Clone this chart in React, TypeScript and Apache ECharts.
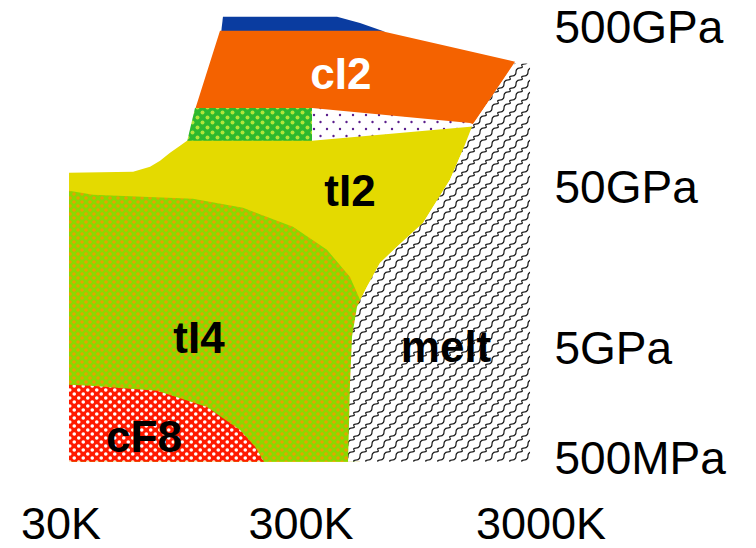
import { useEffect, useRef } from 'react';
import * as echarts from 'echarts';

// Axis ticks (temperature in K, pressure in GPa)
const temperatureTicks = [30, 300, 3000];
const temperatureTickLabels = ['30K', '300K', '3000K'];
const pressureTicks = [1.03, 5, 50, 500];
const pressureTickLabels = ['500MPa', '5GPa', '50GPa', '500GPa'];

// Phase fields: vertices as [T (K), P (GPa)]
const blueField = [[141.9, 577], [423.8, 577], [528.4, 529], [671.6, 465], [139.2, 452]];
const cI2Field = [[137.9, 472], [640.1, 472], [1253, 375], [2338, 303], [1562, 122.5], [333.4, 152], [108.5, 152]];
const greenField = [[108.5, 156], [333.4, 156], [333.4, 96.1], [100.5, 96.1]];
const wedgeField = [[333.4, 156], [1518, 126], [1624, 121], [1518, 117], [333.4, 96.1]];
const tI2Field = [
  [32.4, 61.6], [59.9, 62.5], [70.5, 67.1], [77.6, 73.1], [85.4, 82.0], [94.0, 90.7], [100.5, 97.4],
  [333.4, 97.4], [1518, 119], [1624, 121], [1419, 85.6], [1253, 55.7], [967.1, 30.0], [753.6, 21.3],
  [640.1, 16.9], [565.1, 12.0], [513.4, 9.0], [489.4, 5.85], [480.1, 3.03], [471.0, 0.975], [32.4, 0.975],
];
const tI4Field = [
  [32.4, 47.6], [40.8, 44.9], [106.4, 42.4], [172.0, 37.3], [277.8, 28.4], [385.0, 20.4], [480.1, 13.8],
  [528.4, 9.95], [538.6, 6.47], [528.4, 0.975], [32.4, 0.975],
];
const cF8Field = [
  [32.4, 2.94], [39.6, 2.9], [75.4, 2.7], [121.7, 2.14], [167.1, 1.54], [193.0, 1.21], [210.4, 0.975], [32.4, 0.975],
];
const meltField = [
  [2338, 298], [2700, 294], [2700, 0.975], [471.0, 0.975], [480.1, 3.03], [489.4, 5.85], [513.4, 9.0],
  [565.1, 12.0], [640.1, 16.9], [753.6, 21.3], [967.1, 30.0], [1253, 55.7], [1419, 85.6], [1562, 124], [1930, 197],
];

// Field labels [T (K), P (GPa)]
const labelNames = ['cI2', 'tI2', 'tI4', 'cF8', 'melt'];
const labelT = [440, 480, 112.7, 66.5, 1206];
const labelP = [255, 47.6, 5.77, 1.4, 5.07];
const labelColors = ['#ffffff', '#000000', '#000000', '#000000', '#000000'];

type Dot = [number, number];
function dotTile(w: number, h: number, bg: string, dot: string, r: number, dots: Dot[]) {
  const c = document.createElement('canvas');
  c.width = w;
  c.height = h;
  const ctx = c.getContext('2d')!;
  ctx.fillStyle = bg;
  ctx.fillRect(0, 0, w, h);
  ctx.fillStyle = dot;
  for (const [x, y] of dots) {
    for (const dx of [-w, 0, w]) {
      for (const dy of [-h, 0, h]) {
        ctx.beginPath();
        ctx.arc(x + dx, y + dy, r, 0, Math.PI * 2);
        ctx.fill();
      }
    }
  }
  return { image: c.toDataURL(), repeat: 'repeat', imageWidth: w, imageHeight: h };
}

function meltTile() {
  const w = 12;
  const h = 12;
  const c = document.createElement('canvas');
  c.width = w;
  c.height = h;
  const ctx = c.getContext('2d')!;
  ctx.fillStyle = '#ffffff';
  ctx.fillRect(0, 0, w, h);
  ctx.strokeStyle = '#1a1a1a';
  ctx.lineWidth = 1.2;
  for (const dx of [-w, 0, w]) {
    for (const dy of [-h, 0, h]) {
      ctx.beginPath();
      ctx.moveTo(dx + 0, dy + 12);
      ctx.bezierCurveTo(dx + 0, dy + 5, dx + 8, dy + 10, dx + 6, dy + 6);
      ctx.bezierCurveTo(dx + 4, dy + 2, dx + 12, dy + 7, dx + 12, dy + 0);
      ctx.stroke();
    }
  }
  return { image: c.toDataURL(), repeat: 'repeat', imageWidth: w, imageHeight: h };
}

function nearestLabel(v: number, ticks: number[], labels: string[]) {
  let best = 0;
  let bd = Infinity;
  ticks.forEach((t, i) => {
    const d = Math.abs(Math.log10(t) - v);
    if (d < bd) {
      bd = d;
      best = i;
    }
  });
  return labels[best];
}

export default function App() {
  const ref = useRef<HTMLDivElement>(null);
  useEffect(() => {
    if (!ref.current) return;
    const chart = echarts.init(ref.current, null, { renderer: 'svg' });

    const fills: any[] = [
      '#0a3ca0',
      '#f46200',
      dotTile(10, 10, '#2eb82e', '#b4e43c', 2, [[2.5, 2.5], [7.5, 7.5]]),
      dotTile(13, 14, '#ffffff', '#5a1e8c', 1.2, [[2, 3], [8.5, 10]]),
      '#e4da00',
      dotTile(8, 8, '#8ad800', '#e6a200', 1.8, [[2, 2], [6, 6]]),
      dotTile(9, 8, '#ff1a00', '#ffffff', 1.8, [[2.25, 2], [6.75, 6]]),
      meltTile(),
    ];
    const fields = [blueField, cI2Field, greenField, wedgeField, tI2Field, tI4Field, cF8Field, meltField];
    const names = ['blue', 'cI2', 'green', 'wedge', 'tI2', 'tI4', 'cF8', 'melt'];

    const fieldSeries = fields.map((pts, k) => ({
      type: 'custom',
      name: names[k],
      coordinateSystem: 'cartesian2d',
      silent: true,
      z: 2 + k,
      data: pts.map(([t, p]) => [Math.log10(t), Math.log10(p)]),
      encode: { x: 0, y: 1 },
      renderItem: (params: any, api: any) => {
        if (params.dataIndexInside !== 0) return null;
        const n = params.dataInsideLength;
        const points: number[][] = [];
        for (let i = 0; i < n; i++) {
          points.push(api.coord([api.value(0, i), api.value(1, i)]));
        }
        return { type: 'polygon', shape: { points }, style: { fill: fills[k], stroke: null } };
      },
    }));

    const labelSeries = {
      type: 'custom',
      name: 'labels',
      coordinateSystem: 'cartesian2d',
      silent: true,
      z: 20,
      data: labelNames.map((n, i) => [Math.log10(labelT[i]), Math.log10(labelP[i]), i]),
      encode: { x: 0, y: 1 },
      renderItem: (params: any, api: any) => {
        const pt = api.coord([api.value(0), api.value(1)]);
        const i = api.value(2);
        return {
          type: 'text',
          x: pt[0],
          y: pt[1],
          style: {
            text: labelNames[i],
            fill: labelColors[i],
            fontSize: 44,
            fontWeight: 'bold',
            fontFamily: '"Liberation Sans", Arial, sans-serif',
            align: 'center',
            verticalAlign: 'middle',
          },
        };
      },
    };

    chart.setOption({
      animation: false,
      backgroundColor: '#ffffff',
      grid: { left: 54.5, top: 0, width: 492, height: 468, outerBoundsMode: 'none' },
      xAxis: {
        type: 'value',
        min: 1.45,
        max: 3.5,
        axisLine: { show: false },
        axisTick: { show: false },
        splitLine: { show: false },
        axisLabel: {
          customValues: temperatureTicks.map((t) => Math.log10(t)),
          formatter: (v: number) => nearestLabel(v, temperatureTicks, temperatureTickLabels),
          fontSize: 45,
          lineHeight: 40,
          fontFamily: '"Liberation Sans", Arial, sans-serif',
          color: '#000000',
          margin: 35,
        },
      },
      yAxis: {
        type: 'value',
        position: 'right',
        min: -0.05,
        max: 2.866,
        axisLine: { show: false },
        axisTick: { show: false },
        splitLine: { show: false },
        axisLabel: {
          customValues: pressureTicks.map((p) => Math.log10(p)),
          formatter: (v: number) => nearestLabel(v, pressureTicks, pressureTickLabels),
          fontSize: 46,
          fontFamily: '"Liberation Sans", Arial, sans-serif',
          color: '#000000',
          margin: 8,
        },
      },
      series: [...fieldSeries, labelSeries],
    });
    return () => chart.dispose();
  }, []);
  return (
    <div
      ref={ref}
      style={{ position: 'absolute', left: 0, top: 0, width: 756, height: 548, background: '#fff' }}
    />
  );
}
